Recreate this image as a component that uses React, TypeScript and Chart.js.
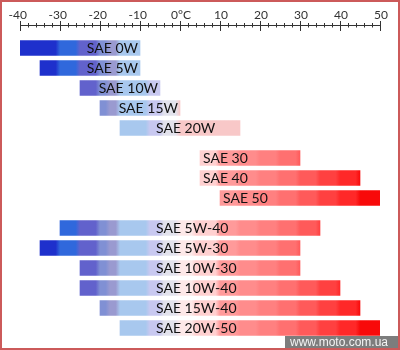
import { useEffect, useRef } from 'react';
import { Chart, registerables } from 'chart.js';

Chart.register(...registerables);

// ---- data ----
const winterGrades = ['SAE 0W', 'SAE 5W', 'SAE 10W', 'SAE 15W', 'SAE 20W'];
const winterMin = [-40, -35, -25, -20, -15];
const winterMax = [-10, -10, -5, 0, 15];

const summerGrades = ['SAE 30', 'SAE 40', 'SAE 50'];
const summerMin = [5, 5, 10];
const summerMax = [30, 45, 50];

const multiGrades = ['SAE 5W-40', 'SAE 5W-30', 'SAE 10W-30', 'SAE 10W-40', 'SAE 15W-40', 'SAE 20W-50'];
const multiMin = [-30, -35, -25, -25, -20, -15];
const multiMax = [35, 30, 30, 40, 45, 50];

const majorTicks = [-40, -30, -20, -10, 0, 10, 20, 30, 40, 50];
const tickLabels = ['-40', '-30', '-20', '-10', '0°C', '10', '20', '30', '40', '50'];
const minorStep = 2;

const watermark = 'www.moto.com.ua';

// ---- styles ----
const bands: [number, string][] = [
  [-40, '#1e30cc'],
  [-30, '#3068dc'],
  [-25, '#6262cc'],
  [-20, '#8090d4'],
  [-17.5, '#9a9ad0'],
  [-15, '#a8c8ee'],
  [-7.5, '#c8c8f0'],
  [-4, '#e2e2ec'],
  [0, '#fde8e8'],
  [4, '#ffd0d0'],
  [10, '#ff9a9a'],
  [15, '#ff8c8c'],
  [20, '#ff8080'],
  [25, '#ff7070'],
  [30, '#ff5a5a'],
  [35, '#ff4040'],
  [40, '#ff2828'],
  [45, '#f80a0a'],
];
const winterWarmColor = '#f8c8c8';
const LABEL_ANCHOR_TEMP = -6;

const groups = [winterGrades, summerGrades, multiGrades];
function rowPos(group: number, i: number) {
  let off = 0;
  for (let g = 0; g < group; g++) off += groups[g].length + 0.5;
  return off + i;
}

function makeGradient(chart: any, winter: boolean) {
  const { ctx, scales } = chart;
  const xs = scales.x;
  const x0 = xs.getPixelForValue(-40);
  const x1 = xs.getPixelForValue(50);
  const g = ctx.createLinearGradient(x0, 0, x1, 0);
  const pos = (t: number) => Math.min(1, Math.max(0, (xs.getPixelForValue(t) - x0) / (x1 - x0)));
  for (let i = 0; i < bands.length; i++) {
    const [t, c0] = bands[i];
    const tn = i + 1 < bands.length ? bands[i + 1][0] : 50;
    const c = winter && t >= 0 ? winterWarmColor : c0;
    g.addColorStop(pos(t), c);
    g.addColorStop(Math.max(pos(t), pos(tn) - 0.012), c);
  }
  return g;
}

const axisPlugin = {
  id: 'topAxis',
  afterDraw(chart: any) {
    const { ctx, scales } = chart;
    const xs = scales.x;
    const y = 25.5;
    ctx.save();
    ctx.strokeStyle = '#333';
    ctx.lineWidth = 1;
    ctx.beginPath();
    ctx.moveTo(xs.getPixelForValue(-40), y);
    ctx.lineTo(xs.getPixelForValue(50) + 1, y);
    for (let t = -40; t <= 50; t += minorStep) {
      const px = Math.round(xs.getPixelForValue(t)) + 0.5;
      if (majorTicks.includes(t)) {
        ctx.moveTo(px, 21);
        ctx.lineTo(px, 31);
      } else {
        ctx.moveTo(px, 23);
        ctx.lineTo(px, 27.5);
      }
    }
    ctx.stroke();
    ctx.fillStyle = '#333';
    ctx.font = '12px Lato';
    ctx.textBaseline = 'middle';
    ctx.textAlign = 'center';
    const minusW = ctx.measureText('-').width;
    majorTicks.forEach((t, i) => {
      const lbl = tickLabels[i];
      const px = xs.getPixelForValue(t);
      const shift = lbl.startsWith('-') ? -minusW / 2 : 1;
      ctx.fillText(lbl, px + shift, 15);
    });
    ctx.restore();
  },
};

const labelPlugin = {
  id: 'barLabels',
  afterDatasetsDraw(chart: any) {
    const { ctx, scales } = chart;
    const anchor = scales.x.getPixelForValue(LABEL_ANCHOR_TEMP);
    ctx.save();
    ctx.font = '14px Lato';
    ctx.fillStyle = '#111';
    ctx.textBaseline = 'middle';
    groups.forEach((names, d) => {
      const meta = chart.getDatasetMeta(d);
      meta.data.forEach((el: any, i: number) => {
        const left = Math.min(el.x, el.base);
        const right = Math.max(el.x, el.base);
        const text = names[i];
        const w = ctx.measureText(text).width;
        const lx = Math.max(anchor, left + 3);
        if (lx + w > right - 2) {
          ctx.textAlign = 'right';
          ctx.fillText(text, right - 2, el.y + 0.5);
        } else {
          ctx.textAlign = 'left';
          ctx.fillText(text, lx, el.y + 0.5);
        }
      });
    });
    ctx.restore();
  },
};

const framePlugin = {
  id: 'frame',
  afterDraw(chart: any) {
    const { ctx, width, height } = chart;
    ctx.save();
    ctx.fillStyle = '#7d7d7d';
    ctx.fillRect(285, height - 14, width - 285, 14);
    ctx.fillStyle = '#f4f4f4';
    ctx.font = '12px "Liberation Sans"';
    ctx.textBaseline = 'middle';
    ctx.textAlign = 'left';
    ctx.fillText(watermark, 290, height - 7);
    ctx.strokeStyle = '#cc5a5a';
    ctx.lineWidth = 2;
    ctx.strokeRect(1, 1, width - 2, height - 2);
    ctx.restore();
  },
};

export default function App() {
  const ref = useRef<HTMLCanvasElement>(null);
  useEffect(() => {
    document.body.style.margin = '0';
    const canvas = ref.current!;
    const cache: Record<string, any> = {};
    const bg = (key: string, winter: boolean) => (c: any) => {
      const chart = c.chart;
      if (!chart.chartArea) return 'transparent';
      if (!cache[key]) cache[key] = makeGradient(chart, winter);
      return cache[key];
    };
    const common = { barThickness: 15, borderWidth: 0, borderSkipped: false, grouped: false };
    const chart = new Chart(canvas, {
      type: 'bar',
      data: {
        datasets: [
          {
            label: 'winter',
            data: winterGrades.map((_, i) => ({ x: [winterMin[i], winterMax[i]], y: rowPos(0, i) })),
            backgroundColor: bg('w', true),
            ...common,
          },
          {
            label: 'summer',
            data: summerGrades.map((_, i) => ({ x: [summerMin[i], summerMax[i]], y: rowPos(1, i) })),
            backgroundColor: bg('s', false),
            ...common,
          },
          {
            label: 'multi',
            data: multiGrades.map((_, i) => ({ x: [multiMin[i], multiMax[i]], y: rowPos(2, i) })),
            backgroundColor: bg('m', false),
            ...common,
          },
        ] as any,
      },
      options: {
        indexAxis: 'y',
        responsive: false,
        animation: false,
        layout: { padding: { top: 26, left: 20, right: 20, bottom: 0 } },
        scales: {
          x: { type: 'linear', min: -40, max: 50, display: false },
          y: {
            type: 'linear',
            min: -1.1,
            max: 15.1,
            reverse: true,
            display: false,
            offset: false,
            bounds: 'data',
            grace: 0,
          },
        },
        plugins: { legend: { display: false }, tooltip: { enabled: false } },
      } as any,
      plugins: [axisPlugin, labelPlugin, framePlugin],
    });
    return () => chart.destroy();
  }, []);
  return (
    <div style={{ width: 400, height: 350, background: '#fff' }}>
      <canvas ref={ref} width={400} height={350} />
    </div>
  );
}
